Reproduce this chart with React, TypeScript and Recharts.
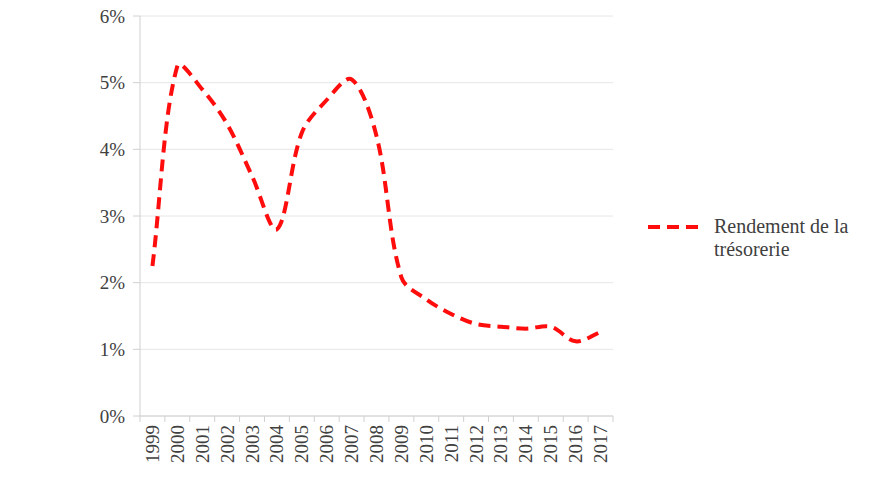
import { CartesianGrid, Legend, Line, LineChart, XAxis, YAxis } from "recharts";

const years = [
  "1999", "2000", "2001", "2002", "2003", "2004", "2005", "2006", "2007", "2008",
  "2009", "2010", "2011", "2012", "2013", "2014", "2015", "2016", "2017",
];

const rendement = [
  2.25, 5.25, 4.9, 4.38, 3.6, 2.8, 4.25, 4.74, 5.05, 4.2,
  2.08, 1.75, 1.53, 1.38, 1.34, 1.31, 1.34, 1.12, 1.26,
];

const yTicks = [0, 1, 2, 3, 4, 5, 6];

const seriesName = "Rendement de la trésorerie";

const data = years.map((year, i) => ({ year, value: rendement[i] }));

const WIDTH = 890;
const HEIGHT = 482;
const MARGIN = { top: 16, right: 277, bottom: 0, left: 0 };
const Y_AXIS_WIDTH = 140;
const X_AXIS_HEIGHT = 66;
const PLOT_WIDTH = WIDTH - MARGIN.left - MARGIN.right - Y_AXIS_WIDTH;
const BAND = PLOT_WIDTH / years.length;

const FONT = "'Liberation Serif', 'Times New Roman', serif";
const TEXT = "#404040";
const AXIS = "#d0d0d0";
const RED = "#ff0d0d";

const dist = (a: number[], b: number[]) => Math.hypot(b[0] - a[0], b[1] - a[1]);

// spreadsheet-style smoothed line: bezier through the points,
// control arms weighted by neighbouring segment lengths
function smoothCurve(context: any) {
  let pts: number[][] = [];
  return {
    areaStart() {},
    areaEnd() {},
    lineStart() {
      pts = [];
    },
    point(x: number, y: number) {
      pts.push([+x, +y]);
    },
    lineEnd() {
      if (!pts.length) return;
      context.moveTo(pts[0][0], pts[0][1]);
      for (let i = 0; i < pts.length - 1; i++) {
        const p0 = pts[i - 1] || pts[i];
        const p1 = pts[i];
        const p2 = pts[i + 1];
        const p3 = pts[i + 2] || pts[i + 1];
        const d01 = dist(p0, p1);
        const d12 = dist(p1, p2);
        const d23 = dist(p2, p3);
        const f1 = d12 / (d01 + d12 || 1) / 3;
        const f2 = d12 / (d12 + d23 || 1) / 3;
        context.bezierCurveTo(
          p1[0] + (p2[0] - p0[0]) * f1,
          p1[1] + (p2[1] - p0[1]) * f1,
          p2[0] - (p3[0] - p1[0]) * f2,
          p2[1] - (p3[1] - p1[1]) * f2,
          p2[0],
          p2[1],
        );
      }
    },
  };
}

function YearTick(props: any) {
  const { x, y, payload, index } = props;
  const last = index === years.length - 1;
  return (
    <g>
      <line x1={x - BAND / 2} x2={x - BAND / 2} y1={y - 8} y2={y - 2} stroke={AXIS} />
      {last && <line x1={x + BAND / 2} x2={x + BAND / 2} y1={y - 8} y2={y - 2} stroke={AXIS} />}
      <text
        transform={`translate(${x}, ${y + 1}) rotate(-90)`}
        textAnchor="end"
        dominantBaseline="central"
        fontFamily={FONT}
        fontSize={19}
        fill={TEXT}
      >
        {payload.value}
      </text>
    </g>
  );
}

function LegendBox() {
  return (
    <div style={{ display: "flex", alignItems: "flex-start", fontFamily: FONT }}>
      <svg width={58} height={24} style={{ flex: "none" }}>
        <line x1={2} x2={56} y1={12} y2={12} stroke={RED} strokeWidth={4} strokeDasharray="12 7" />
      </svg>
      <div style={{ marginLeft: 10, width: 160, fontSize: 20, lineHeight: "23px", color: TEXT }}>
        {seriesName}
      </div>
    </div>
  );
}

export default function App() {
  return (
    <div style={{ position: "absolute", left: 0, top: 0 }}>
      <LineChart width={WIDTH} height={HEIGHT} data={data} margin={MARGIN}>
        <CartesianGrid vertical={false} stroke="#e6e6e6" />
        <XAxis
          dataKey="year"
          interval={0}
          tickLine={false}
          stroke={AXIS}
          tick={<YearTick />}
          height={X_AXIS_HEIGHT}
          padding={{ left: BAND / 2, right: BAND / 2 }}
        />
        <YAxis
          width={Y_AXIS_WIDTH}
          domain={[0, 6]}
          ticks={yTicks}
          interval={0}
          stroke={AXIS}
          tickSize={7}
          tickMargin={8}
          tickFormatter={(v: number) => `${v}%`}
          tick={{ fill: TEXT, fontFamily: FONT, fontSize: 19 }}
        />
        <Legend
          layout="horizontal"
          verticalAlign="middle"
          align="center"
          content={<LegendBox />}
          wrapperStyle={{ left: 646, top: 215, width: 240 }}
        />
        <Line
          name={seriesName}
          type={smoothCurve as any}
          dataKey="value"
          stroke={RED}
          strokeWidth={4}
          strokeDasharray="12 7"
          dot={false}
          activeDot={false}
          isAnimationActive={false}
        />
      </LineChart>
    </div>
  );
}
